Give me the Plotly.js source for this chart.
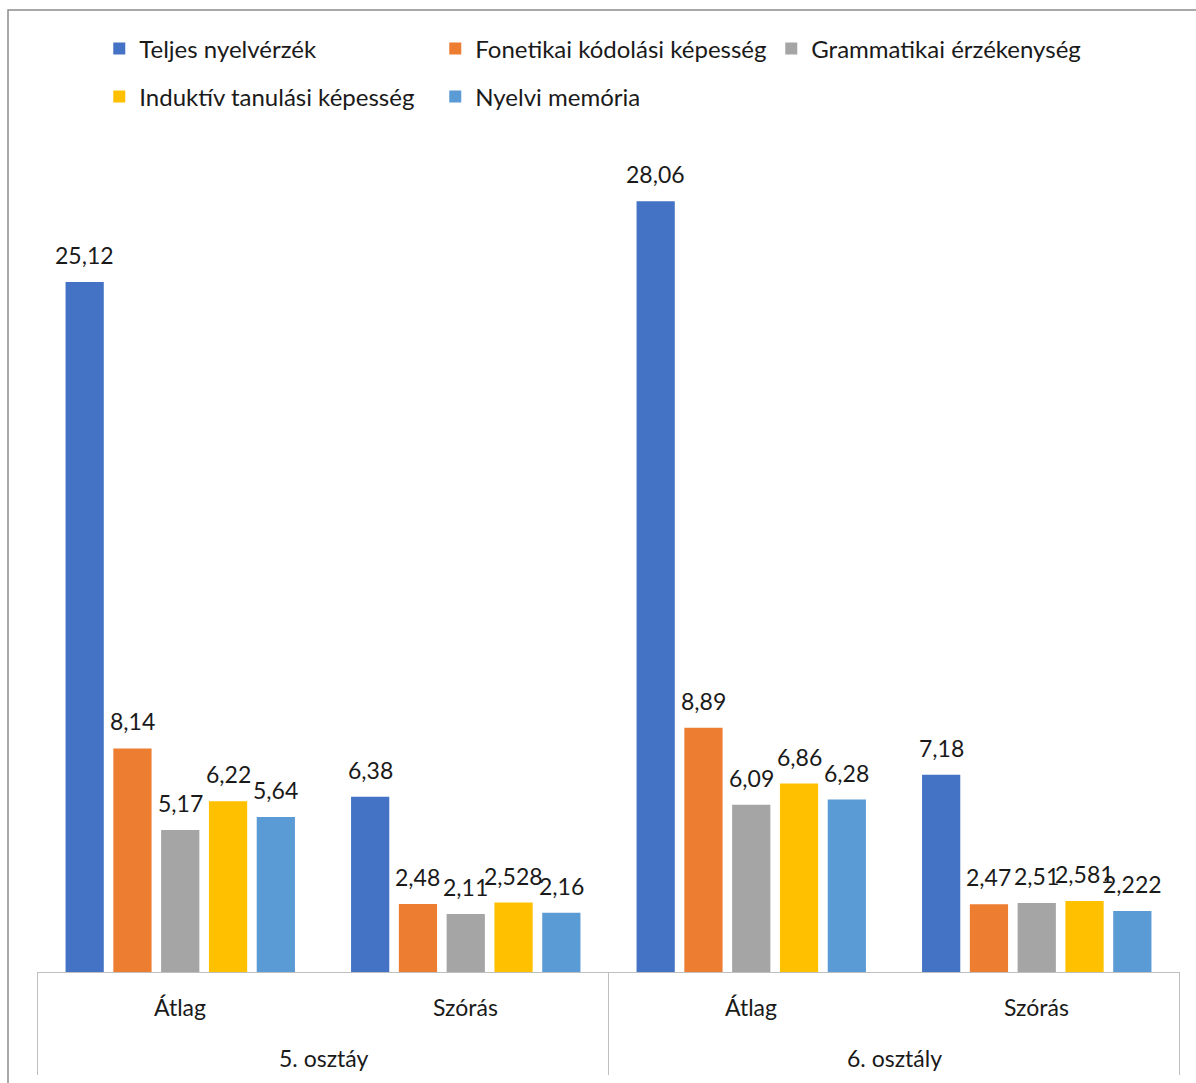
<!DOCTYPE html>
<html>
<head>
<meta charset="utf-8">
<script src="https://cdn.plot.ly/plotly-3.0.1.min.js"></script>
<style>html,body{margin:0;padding:0;background:#fff;}#chart{width:1196px;height:1083px;}</style>
</head>
<body>
<div id="chart"></div>
<script>
const grades = ["5. osztáy", "5. osztáy", "6. osztály", "6. osztály"];
const stats = ["Átlag", "Szórás", "Átlag", "Szórás"];
const seriesNames = ["Teljes nyelvérzék", "Fonetikai kódolási képesség", "Grammatikai érzékenység", "Induktív tanulási képesség", "Nyelvi memória"];
const teljes = [25.12, 6.38, 28.06, 7.18];
const fonetikai = [8.14, 2.48, 8.89, 2.47];
const grammatikai = [5.17, 2.11, 6.09, 2.51];
const induktiv = [6.22, 2.528, 6.86, 2.581];
const memoria = [5.64, 2.16, 6.28, 2.222];
const colors = ["#4472C4", "#ED7D31", "#A5A5A5", "#FFC000", "#5B9BD5"];
const seriesValues = [teljes, fonetikai, grammatikai, induktiv, memoria];
const legendIds = ["legend", "legend", "legend", "legend2", "legend2"];

const font = "Lato, 'Open Sans', sans-serif";
const textColor = "#1a1a1a";
const axisColor = "#bfbfbf";
const BARGAP = 0.163, GROUPGAP = 0.2;
const nSeries = seriesValues.length;

const traces = seriesValues.map((vals, i) => ({
  type: "bar",
  name: seriesNames[i],
  x: [grades, stats],
  y: vals,
  marker: {color: colors[i]},
  legend: legendIds[i],
  hoverinfo: "none"
}));

const annotations = [];
// data labels, lifted a little above each bar
const slot = (1 - BARGAP) / nSeries;
seriesValues.forEach((vals, i) => {
  vals.forEach((v, k) => {
    annotations.push({
      xref: "x", yref: "y",
      x: k - (1 - BARGAP) / 2 + (i + 0.5) * slot,
      y: v,
      text: String(v).replace(".", ","),
      showarrow: false, yanchor: "bottom", yshift: 11,
      font: {family: font, size: 23, color: textColor}
    });
  });
});

// category labels (inner level)
stats.forEach((s, k) => {
  annotations.push({
    xref: "x", yref: "paper", x: k, y: -35/824,
    text: s, showarrow: false, yanchor: "middle",
    font: {family: font, size: 23, color: textColor}
  });
});

// group labels (outer level) and dividers
const shapes = [];
const groupNames = [...new Set(grades)];
groupNames.forEach(g => {
  const idx = grades.map((v, k) => v === g ? k : -1).filter(k => k >= 0);
  const lo = Math.min(...idx), hi = Math.max(...idx);
  annotations.push({
    xref: "x", yref: "paper", x: (lo + hi) / 2, y: -86/824,
    text: g, showarrow: false, yanchor: "middle",
    font: {family: font, size: 23, color: textColor}
  });
  [lo - 0.5, hi + 0.5].forEach(b => shapes.push({
    type: "line", xref: "x", yref: "paper", x0: b, x1: b, y0: 0, y1: -103/824,
    line: {color: axisColor, width: 1}
  }));
});

// outer chart border
shapes.push({
  type: "rect", xref: "paper", yref: "paper",
  x0: -29/1143, x1: 1.1, y0: -0.3, y1: 962/824,
  line: {color: "#8c8c8c", width: 1.5}, fillcolor: "rgba(0,0,0,0)", layer: "below"
});

const legendCommon = {
  orientation: "h",
  xref: "container", yref: "container",
  xanchor: "left", yanchor: "middle",
  font: {family: font, size: 24, color: textColor},
  entrywidth: 291, entrywidthmode: "pixels",
  itemwidth: 30,
  bgcolor: "rgba(0,0,0,0)",
  traceorder: "normal"
};

const layout = {
  width: 1196, height: 1083,
  margin: {l: 37, r: 16, t: 148, b: 111},
  paper_bgcolor: "#fff", plot_bgcolor: "#fff",
  barmode: "group",
  bargap: BARGAP,
  bargroupgap: GROUPGAP,
  showlegend: true,
  legend: Object.assign({}, legendCommon, {x: 0.083, y: 1 - 49/1083}),
  legend2: Object.assign({}, legendCommon, {x: 0.083, y: 1 - 97/1083}),
  xaxis: {
    type: "multicategory",
    showline: true, linecolor: axisColor, linewidth: 1,
    showticklabels: false, showdividers: false,
    ticks: "", showgrid: false, zeroline: false
  },
  yaxis: {
    range: [0, 30], visible: false, showgrid: false, zeroline: false
  },
  annotations: annotations,
  shapes: shapes
};

Plotly.newPlot("chart", traces, layout, {displayModeBar: false, staticPlot: true});
</script>
</body>
</html>
